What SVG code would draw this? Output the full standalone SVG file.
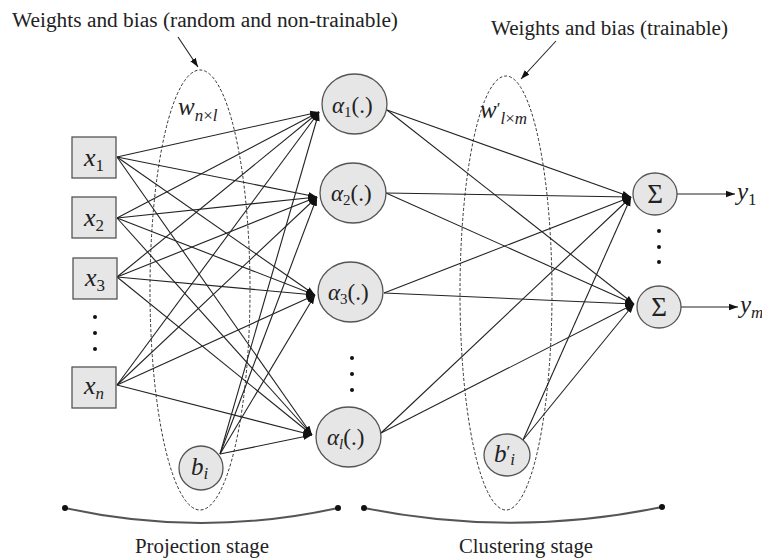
<svg xmlns="http://www.w3.org/2000/svg" width="762" height="560" viewBox="0 0 762 560">
<style>
.t{font-family:"Liberation Serif","Times New Roman","DejaVu Serif",serif;fill:#222}
.m{font-family:"Liberation Serif","Times New Roman","DejaVu Serif",serif;font-style:italic;fill:#222}
.s{font-family:"Liberation Serif","Times New Roman","DejaVu Serif",serif;font-style:normal;fill:#222}
.box{fill:#e6e6e6;stroke:#555;stroke-width:1.3}
.nd{fill:#e6e6e6;stroke:#555;stroke-width:1.3}
.ell{fill:none;stroke:#333;stroke-width:1;stroke-dasharray:3 2}
.c{stroke:#222;stroke-width:1.1;fill:none;marker-end:url(#ah)}
.dot{fill:#111}
.br{fill:none;stroke:#555;stroke-width:2}
</style>
<defs>
<marker id="ah" markerUnits="userSpaceOnUse" markerWidth="10" markerHeight="8" refX="9" refY="4" orient="auto">
<path d="M0,0.8 L9,4 L0,7.2 Z" fill="#111"/>
</marker>
</defs>

<text class="t" x="12" y="27" font-size="20" textLength="386" lengthAdjust="spacingAndGlyphs">Weights and bias (random and non-trainable)</text>
<text class="t" x="491" y="35" font-size="20" textLength="237" lengthAdjust="spacingAndGlyphs">Weights and bias (trainable)</text>

<g id="ellipse-proj"><ellipse class="ell" cx="200" cy="290" rx="50" ry="220"/></g>
<g id="ellipse-clus"><ellipse class="ell" cx="506" cy="293" rx="46" ry="217"/></g>

<g id="connectors">
<line class="c" x1="178" y1="37" x2="198" y2="67"/>
<line class="c" x1="556" y1="41" x2="521" y2="79"/>
<line class="c" x1="117" y1="157" x2="319" y2="112"/>
<line class="c" x1="117" y1="157" x2="317" y2="197"/>
<line class="c" x1="117" y1="157" x2="315" y2="295"/>
<line class="c" x1="117" y1="157" x2="312" y2="435"/>
<line class="c" x1="117" y1="218" x2="319" y2="112"/>
<line class="c" x1="117" y1="218" x2="317" y2="197"/>
<line class="c" x1="117" y1="218" x2="315" y2="295"/>
<line class="c" x1="117" y1="218" x2="312" y2="435"/>
<line class="c" x1="117" y1="277" x2="319" y2="112"/>
<line class="c" x1="117" y1="277" x2="317" y2="197"/>
<line class="c" x1="117" y1="277" x2="315" y2="295"/>
<line class="c" x1="117" y1="277" x2="312" y2="435"/>
<line class="c" x1="117" y1="385" x2="319" y2="112"/>
<line class="c" x1="117" y1="385" x2="317" y2="197"/>
<line class="c" x1="117" y1="385" x2="315" y2="295"/>
<line class="c" x1="117" y1="385" x2="312" y2="435"/>
<line class="c" x1="220" y1="454" x2="319" y2="112"/>
<line class="c" x1="220" y1="454" x2="317" y2="197"/>
<line class="c" x1="220" y1="454" x2="315" y2="295"/>
<line class="c" x1="220" y1="454" x2="312" y2="435"/>
<line class="c" x1="387" y1="110" x2="631" y2="197"/>
<line class="c" x1="387" y1="110" x2="634" y2="304"/>
<line class="c" x1="386" y1="193" x2="631" y2="197"/>
<line class="c" x1="386" y1="193" x2="634" y2="304"/>
<line class="c" x1="384" y1="293" x2="631" y2="197"/>
<line class="c" x1="384" y1="293" x2="634" y2="304"/>
<line class="c" x1="381" y1="433" x2="631" y2="197"/>
<line class="c" x1="381" y1="433" x2="634" y2="304"/>
<line class="c" x1="523" y1="440" x2="631" y2="197"/>
<line class="c" x1="523" y1="440" x2="634" y2="304"/>
<line class="c" x1="677" y1="194" x2="735" y2="194"/>
<line class="c" x1="681" y1="307" x2="738" y2="307"/>
</g>

<text class="m" x="178" y="115" font-size="25">w<tspan font-size="17" dy="6">n</tspan><tspan class="s" font-size="17">×</tspan><tspan font-size="17">l</tspan></text>
<text class="m" x="480" y="118" font-size="25">w<tspan class="s" font-size="17" dy="-4">′</tspan><tspan font-size="17" dy="10">l</tspan><tspan class="s" font-size="17">×</tspan><tspan font-size="17">m</tspan></text>

<g id="x1"><rect class="box" x="72" y="137" width="44" height="41"/><text class="m" x="84" y="166" font-size="26">x<tspan class="s" font-size="17" dy="5">1</tspan></text></g>
<g id="x2"><rect class="box" x="72" y="197" width="44" height="41"/><text class="m" x="84" y="226" font-size="26">x<tspan class="s" font-size="17" dy="5">2</tspan></text></g>
<g id="x3"><rect class="box" x="73" y="258" width="44" height="41"/><text class="m" x="85" y="286" font-size="26">x<tspan class="s" font-size="17" dy="5">3</tspan></text></g>
<g id="xn"><rect class="box" x="72" y="367" width="44" height="41"/><text class="m" x="84" y="394" font-size="26">x<tspan font-size="17" dy="5">n</tspan></text></g>
<g id="dots-x"><circle class="dot" cx="95" cy="317" r="2"/><circle class="dot" cx="95" cy="333" r="2"/><circle class="dot" cx="95" cy="349" r="2"/></g>

<g id="bi"><circle class="nd" cx="201" cy="468" r="22"/><text class="m" x="191" y="475" font-size="25">b<tspan font-size="17" dy="4">i</tspan></text></g>

<g id="a1"><ellipse class="nd" cx="354.5" cy="104" rx="32.5" ry="30"/><text class="m" x="332" y="113" font-size="23">α<tspan class="s" font-size="15" dy="4">1</tspan><tspan class="s" dy="-4">(.)</tspan></text></g>
<g id="a2"><ellipse class="nd" cx="353" cy="193" rx="33" ry="30"/><text class="m" x="331" y="201" font-size="23">α<tspan class="s" font-size="15" dy="4">2</tspan><tspan class="s" dy="-4">(.)</tspan></text></g>
<g id="a3"><ellipse class="nd" cx="350.5" cy="292" rx="32.5" ry="30"/><text class="m" x="328" y="300" font-size="23">α<tspan class="s" font-size="15" dy="4">3</tspan><tspan class="s" dy="-4">(.)</tspan></text></g>
<g id="al"><ellipse class="nd" cx="348.5" cy="437" rx="32.5" ry="30"/><text class="m" x="327" y="445" font-size="23">α<tspan font-size="15" dy="4">l</tspan><tspan class="s" dy="-4">(.)</tspan></text></g>
<g id="dots-a"><circle class="dot" cx="352" cy="358" r="2"/><circle class="dot" cx="352" cy="374" r="2"/><circle class="dot" cx="352" cy="390" r="2"/></g>

<g id="bpi"><ellipse class="nd" cx="507" cy="455" rx="23" ry="21"/><text class="m" x="494" y="462" font-size="25">b<tspan class="s" font-size="17" dy="-5">′</tspan><tspan font-size="17" dy="8">i</tspan></text></g>

<g id="s1"><ellipse class="nd" cx="655" cy="194" rx="22" ry="21"/><text class="s" x="655" y="203" font-size="27" text-anchor="middle">Σ</text></g>
<g id="sm"><ellipse class="nd" cx="659" cy="307" rx="22" ry="21"/><text class="s" x="659" y="316" font-size="27" text-anchor="middle">Σ</text></g>
<g id="dots-s"><circle class="dot" cx="659" cy="231" r="2"/><circle class="dot" cx="659" cy="247" r="2"/><circle class="dot" cx="659" cy="262" r="2"/></g>

<g id="y1"><text class="m" x="737" y="200" font-size="25">y<tspan class="s" font-size="17" dy="5">1</tspan></text></g>
<g id="ym"><text class="m" x="740" y="313" font-size="25">y<tspan font-size="17" dy="5">m</tspan></text></g>

<g id="bracket-proj">
<path class="br" d="M65,508 Q201,538 338,508"/>
<circle class="dot" cx="65" cy="508" r="3"/><circle class="dot" cx="338" cy="508" r="3"/>
<text class="t" x="202" y="553" font-size="20" text-anchor="middle" textLength="134" lengthAdjust="spacingAndGlyphs">Projection stage</text>
</g>
<g id="bracket-clus">
<path class="br" d="M364,508 Q513,538 662,507"/>
<circle class="dot" cx="364" cy="508" r="3"/><circle class="dot" cx="662" cy="507" r="3"/>
<text class="t" x="526" y="553" font-size="20" text-anchor="middle" textLength="134" lengthAdjust="spacingAndGlyphs">Clustering stage</text>
</g>
</svg>
